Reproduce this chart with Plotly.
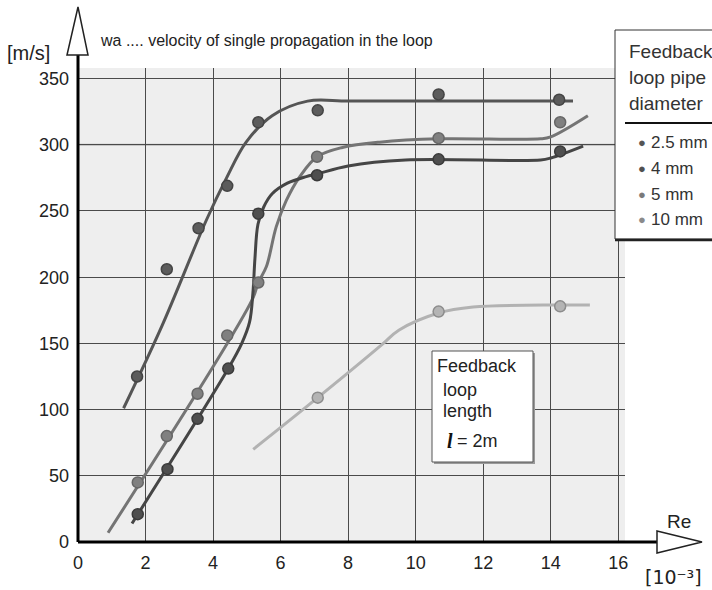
import plotly.graph_objects as go

# ---------------- data ----------------
# measured points, Re in 10^3, velocity in m/s
reA = [1.75, 2.63, 3.57, 4.42, 5.34, 7.1, 10.68, 14.25]
wA = [125, 206, 237, 269, 317, 326, 338, 334]
reB = [1.77, 2.63, 3.54, 4.42, 5.34, 7.08, 10.68, 14.28]
wB = [45, 80, 112, 156, 196, 291, 305, 317]
reC = [1.77, 2.65, 3.54, 4.45, 5.34, 7.08, 10.68, 14.28]
wC = [21, 55, 93, 131, 248, 277, 289, 295]
reD = [7.1, 10.68, 14.28]
wD = [109, 174, 178]

# fitted curves
curveA_x = [1.35, 2.5, 3.8, 4.4, 4.98, 5.75, 6.8, 8.0, 10.68, 14.25, 14.66]
curveA_y = [101, 164, 243, 275, 302, 322, 333, 333, 333, 333, 333]
curveB_x = [0.89, 5.16, 5.34, 5.58, 5.87, 6.17, 6.57, 7.08, 7.83, 8.93, 10.68, 13.7, 14.0, 15.1]
curveB_y = [7, 183, 196, 208, 238, 258, 276, 291, 298, 302, 304.5, 304.5, 306, 322]
curveC_x = [1.6, 4.45, 4.85, 5.08, 5.18, 5.24, 5.33, 5.5, 5.75, 6.2, 6.76, 7.08, 8.0, 9.7, 13.7, 14.0, 14.96]
curveC_y = [14, 131, 150, 166, 188, 214, 240, 253, 263, 271, 276, 278, 284, 288.5, 288.5, 290, 299]
curveD_x = [5.19, 7.1, 9.0, 9.5, 10.68, 11.7, 14.28, 15.16]
curveD_y = [70, 109, 149, 160, 173, 177.5, 179, 179]

legend_labels = ["2.5 mm", "4 mm", "5 mm", "10 mm"]
legend_colors = ["#555555", "#505050", "#7a7a7a", "#8a8a8a"]

x_ticks = [0, 2, 4, 6, 8, 10, 12, 14, 16]
y_ticks = [0, 50, 100, 150, 200, 250, 300, 350]

# ---------------- layout geometry ----------------
WIDTH, HEIGHT = 712, 590
L, R, T, B = 78, 625, 68, 542
PW, PH = R - L, B - T


def px(x):
    return (x - L) / PW


def py(y):
    return (B - y) / PH


FONT = "Liberation Sans, Arial, sans-serif"

fig = go.Figure()

series = [
    (curveA_x, curveA_y, reA, wA, "#555555", "#5c5c5c", "#444444"),
    (curveB_x, curveB_y, reB, wB, "#747474", "#808080", "#666666"),
    (curveC_x, curveC_y, reC, wC, "#454545", "#4f4f4f", "#3a3a3a"),
    (curveD_x, curveD_y, reD, wD, "#b2b2b2", "#b4b4b4", "#8c8c8c"),
]
for cx, cy, mx, my, lc, mc, oc in series:
    fig.add_trace(go.Scatter(x=cx, y=cy, mode="lines",
                             line=dict(color=lc, width=3, shape="spline", smoothing=1.0),
                             showlegend=False, hoverinfo="skip"))
for cx, cy, mx, my, lc, mc, oc in series:
    fig.add_trace(go.Scatter(x=mx, y=my, mode="markers",
                             marker=dict(size=11, color=mc, line=dict(color=oc, width=1.5)),
                             showlegend=False))

shapes = []
# light grid line at 300
shapes.append(dict(type="line", xref="paper", yref="y", x0=0, x1=1, y0=300, y1=300,
                   line=dict(color="#b8b8b8", width=2), layer="between"))
# x axis with arrow
shapes.append(dict(type="line", xref="paper", yref="paper", x0=px(L), x1=px(657),
                   y0=py(B), y1=py(B), line=dict(color="black", width=3)))
shapes.append(dict(type="path", xref="paper", yref="paper",
                   path=f"M {px(657)},{py(531)} L {px(702)},{py(B)} L {px(657)},{py(553)} Z",
                   fillcolor="white", line=dict(color="#222222", width=1.5)))
# y axis with arrow
shapes.append(dict(type="line", xref="paper", yref="paper", x0=px(L), x1=px(L),
                   y0=py(B), y1=py(55), line=dict(color="black", width=3)))
shapes.append(dict(type="path", xref="paper", yref="paper",
                   path=f"M {px(67)},{py(55)} L {px(L)},{py(7)} L {px(88)},{py(55)} Z",
                   fillcolor="white", line=dict(color="#222222", width=1.5)))
# legend box
shapes.append(dict(type="rect", xref="paper", yref="paper", x0=px(615), x1=px(780),
                   y0=py(239), y1=py(30), fillcolor="white", line=dict(color="#333333", width=1)))
shapes.append(dict(type="line", xref="paper", yref="paper", x0=px(615), x1=px(712),
                   y0=py(240), y1=py(240), line=dict(color="#222222", width=2.5)))
shapes.append(dict(type="line", xref="paper", yref="paper", x0=px(625), x1=px(712),
                   y0=py(123), y1=py(123), line=dict(color="#111111", width=2)))
# feedback length box (with shadow)
shapes.append(dict(type="rect", xref="paper", yref="paper", x0=px(434), x1=px(535),
                   y0=py(464), y1=py(353), fillcolor="#999999", line=dict(width=0)))
shapes.append(dict(type="rect", xref="paper", yref="paper", x0=px(432), x1=px(533),
                   y0=py(462), y1=py(351), fillcolor="white", line=dict(color="#555555", width=1)))

ann = []


def text(x, y, s, size, anchor="left", color="#222222", family=FONT, **fontkw):
    ann.append(dict(x=px(x), y=py(y), xref="paper", yref="paper", text=s, showarrow=False,
                    xanchor=anchor, yanchor="middle",
                    font=dict(size=size, color=color, family=family, **fontkw)))


text(5, 53, "[m/s]", 20)
text(98, 40, "wa .... velocity of single propagation in the loop", 16)
text(665, 521, "Re", 19)
text(643, 577, "[10⁻³]", 19, family="DejaVu Sans, Liberation Sans, sans-serif")

text(627, 51, "Feedback", 19, color="#333333")
text(627, 78, "loop pipe", 19, color="#333333")
text(627, 103, "diameter", 19, color="#333333")
leg_y = [142, 168, 194, 220]
for lab, col, yy in zip(legend_labels, legend_colors, leg_y):
    text(642, yy, "●", 13, anchor="center", color=col)
    text(649, yy, lab, 17, color="#333333")

text(435, 366, "Feedback", 18)
text(441, 390, "loop", 18)
text(441, 411, "length", 18)
text(445, 441, "l", 20, color="#111111", family="Liberation Serif, serif",
     style="italic", weight="bold")
text(455, 441, "= 2m", 18)

fig.update_layout(
    width=WIDTH, height=HEIGHT,
    margin=dict(l=L, r=WIDTH - R, t=T, b=HEIGHT - B, autoexpand=False),
    paper_bgcolor="white", plot_bgcolor="#eeeeee",
    showlegend=False,
    font=dict(family=FONT, size=18, color="#222222"),
    shapes=shapes, annotations=ann,
    xaxis=dict(range=[0, 16.2], tickvals=x_ticks, showgrid=True, gridcolor="#4a4a4a",
               gridwidth=1.3, zeroline=False, showline=False, ticks="",
               ticklabelstandoff=8, tickfont=dict(size=18, color="#222222"), fixedrange=True),
    yaxis=dict(range=[0, 358], tickvals=y_ticks, showgrid=True, gridcolor="#4a4a4a",
               gridwidth=1.3, zeroline=False, showline=False, ticks="",
               ticklabelstandoff=8, tickfont=dict(size=18, color="#222222"), fixedrange=True),
)

fig.write_html("out.html")
